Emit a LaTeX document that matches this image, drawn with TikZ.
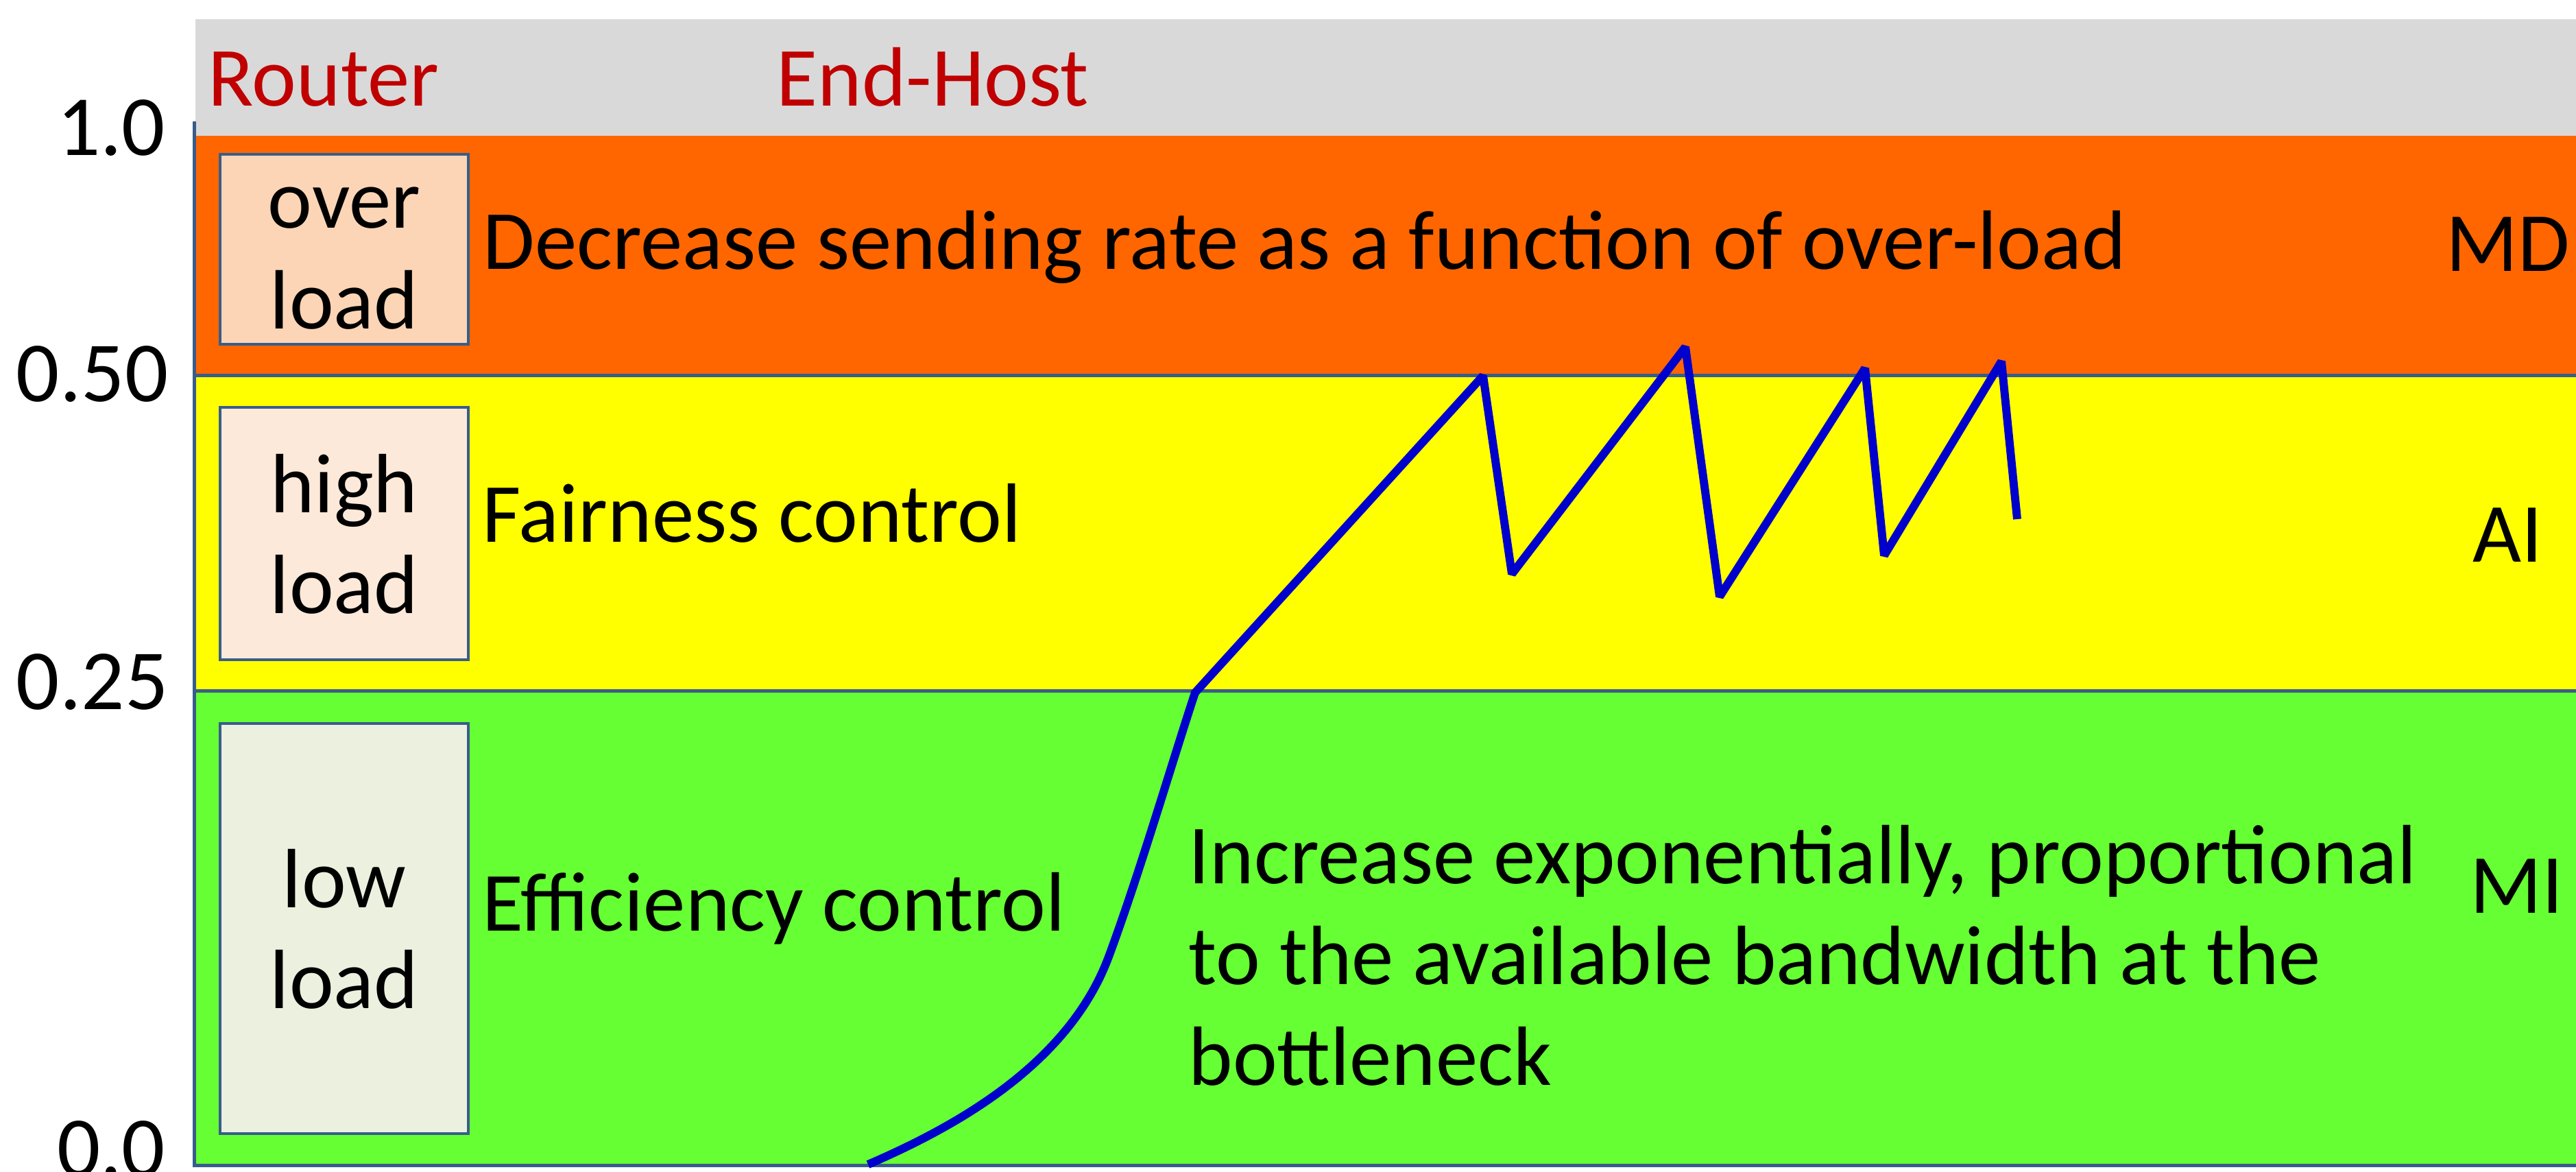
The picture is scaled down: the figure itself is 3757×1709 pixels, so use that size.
\documentclass[tikz,border=0pt]{standalone}
\usepackage{fontspec}
\setmainfont{Carlito}
\definecolor{hdrgray}{HTML}{D9D9D9}
\definecolor{overc}{HTML}{FF6600}
\definecolor{highc}{HTML}{FFFF00}
\definecolor{lowc}{HTML}{66FF33}
\definecolor{redtxt}{HTML}{C00000}
\definecolor{edge}{HTML}{385D8A}
\definecolor{curveblue}{HTML}{0000CC}
\definecolor{ovfill}{HTML}{FBD5B5}
\definecolor{hifill}{HTML}{FDE9D9}
\definecolor{lofill}{HTML}{EBF1DE}
\begin{document}
\begin{tikzpicture}[x=0.01cm,y=-0.01cm,
  lbl/.style={font=\fontsize{34.9}{41.8}\selectfont, inner sep=0pt, text=black},
  ticklbl/.style={font=\fontsize{35.5}{42}\selectfont, inner sep=0pt, anchor=base east},
  hdr/.style={lbl, text=redtxt, anchor=base west},
  loadbox/.style={lbl, draw=edge, line width=1.14pt, align=center, minimum width=3.62cm},
  bandline/.style={draw=edge, line width=1.42pt},
  rate/.style={draw=curveblue, line width=3.4pt, line join=bevel}]
\clip (0,0) rectangle (3757,1709);
\fill[white] (0,0) rectangle (3757,1709);
% bands
\fill[hdrgray] (285,28) rectangle (3757,198);
\fill[overc] (285,198) rectangle (3757,547);
\fill[highc] (285,547) rectangle (3757,1007);
\fill[lowc] (285,1007) rectangle (3757,1699);
\draw[bandline] (283,177) -- (283,1699) -- (3770,1699);
\draw[bandline] (283,547) -- (3770,547);
\draw[bandline] (283,1007) -- (3770,1007);
% axis labels
\node[ticklbl] (t10) at (242,226) {1.0};
\node[ticklbl] (t50) at (246,585) {0.50};
\node[ticklbl] (t25) at (246,1034) {0.25};
\node[ticklbl] (t00) at (242,1715) {0.0};
% header
\node[hdr] (router) at (303,154) {Router};
\node[hdr] (endhost) at (1132,154) {End-Host};
% load boxes
\node[loadbox, fill=ovfill, minimum height=2.77cm] (over) at (502,363.5) {\rule{0pt}{0.7em}over\\load};
\node[loadbox, fill=hifill, minimum height=3.68cm] (high) at (502,778) {\rule{0pt}{0.7em}high\\load};
\node[loadbox, fill=lofill, minimum height=5.98cm] (low) at (502,1354) {\rule{0pt}{0.7em}low\\load};
% band texts
\node[lbl, anchor=base west] (dec) at (704,392) {Decrease sending rate as a function of over-load};
\node[lbl, anchor=base west] (fair) at (703,790) {Fairness control};
\node[lbl, anchor=base west] (eff) at (703,1357) {Efficiency control};
\node[lbl, anchor=base west, align=left] (incr) at (1733,1582) {Increase exponentially, proportional\\to the available bandwidth at the\\bottleneck};
\node[lbl, anchor=base west] (md) at (3567,395) {MD};
\node[lbl, anchor=base west] (ai) at (3606,819) {AI};
\node[lbl, anchor=base west] (mi) at (3602,1331) {MI};
% rate curve
\draw[rate] (1266,1698) .. controls (1386,1646) and (1557,1556) .. (1617,1395)
  .. controls (1662,1274) and (1712,1103) .. (1743,1010)
  -- (2163,548) -- (2205,837) -- (2458,506) -- (2508,870)
  -- (2720,537) -- (2748,810) -- (2919,527) -- (2942,757);
\end{tikzpicture}
\end{document}
